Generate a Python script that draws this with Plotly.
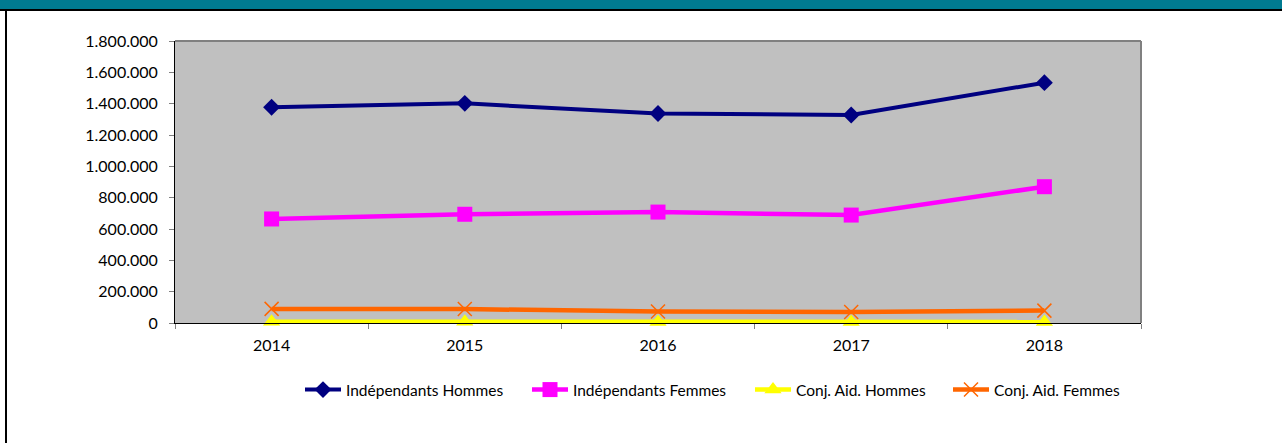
import plotly.graph_objects as go

years = ["2014", "2015", "2016", "2017", "2018"]
indep_hommes = [1377000, 1402000, 1337000, 1328000, 1534000]
indep_femmes = [664000, 694000, 708000, 689000, 870000]
conj_hommes = [8000, 8000, 7000, 7000, 7000]
conj_femmes = [90000, 89000, 73000, 70000, 79000]
y_ticks = [0, 200000, 400000, 600000, 800000, 1000000, 1200000, 1400000, 1600000, 1800000]
y_tick_labels = ["0", "200.000", "400.000", "600.000", "800.000", "1.000.000",
                 "1.200.000", "1.400.000", "1.600.000", "1.800.000"]

FONT = "Lato, Open Sans, sans-serif"

L, R, T, B = 175, 141, 41, 120
W, H = 1282, 443
pw, ph = W - L - R, H - T - B


def px_x(x):
    return (x - L) / pw


def px_y(y):
    return (H - B - y) / ph


fig = go.Figure()
fig.add_trace(go.Scatter(x=years, y=indep_hommes, name="Indépendants Hommes", legend="legend",
                         mode="lines+markers", line=dict(color="#000080", width=4), cliponaxis=False,
                         marker=dict(symbol="diamond", size=13, color="#000080")))
fig.add_trace(go.Scatter(x=years, y=indep_femmes, name="Indépendants Femmes", legend="legend2",
                         mode="lines+markers", line=dict(color="#FF00FF", width=4.5), cliponaxis=False,
                         marker=dict(symbol="square", size=15, color="#FF00FF")))
fig.add_trace(go.Scatter(x=years, y=conj_hommes, name="Conj. Aid. Hommes", legend="legend3",
                         mode="lines+markers", line=dict(color="#FFFF00", width=4.5), cliponaxis=False,
                         marker=dict(symbol="triangle-up", size=15, color="#FFFF00")))
fig.add_trace(go.Scatter(x=years, y=conj_femmes, name="Conj. Aid. Femmes", legend="legend4",
                         mode="lines+markers", line=dict(color="#FF6600", width=4.5), cliponaxis=False,
                         marker=dict(symbol="x-thin", size=14, color="#FF6600",
                                     line=dict(color="#FF6600", width=1.5))))

legend_left_px = [300, 527, 750, 948]


def leg(xpx):
    return dict(orientation="h", x=px_x(xpx), xanchor="left", y=px_y(390), yanchor="middle",
                font=dict(family=FONT, size=15.5, color="black"), itemwidth=36,
                bgcolor="rgba(0,0,0,0)", borderwidth=0)


fig.update_layout(
    width=W, height=H,
    margin=dict(l=L, r=R, t=T, b=B),
    paper_bgcolor="white", plot_bgcolor="#C0C0C0",
    font=dict(family=FONT, size=16, color="black"),
    showlegend=True,
    legend=leg(legend_left_px[0]),
    legend2=leg(legend_left_px[1]),
    legend3=leg(legend_left_px[2]),
    legend4=leg(legend_left_px[3]),
    xaxis=dict(type="category", range=[-0.5, 4.5], showgrid=False, zeroline=False,
               showline=True, linecolor="black", linewidth=1,
               ticks="outside", ticklen=5, tickcolor="#808080", tickson="boundaries",
               ticklabelstandoff=8,
               tickfont=dict(family=FONT, size=16)),
    yaxis=dict(range=[0, 1800000], tickvals=y_ticks, ticktext=y_tick_labels,
               showgrid=False, zeroline=False, showline=True, linecolor="black", linewidth=1,
               ticks="outside", ticklen=5, tickcolor="#808080", ticklabelstandoff=8,
               tickfont=dict(family=FONT, size=16)),
    shapes=[
        dict(type="line", xref="x domain", yref="y domain", x0=0, x1=1, y0=1, y1=1,
             line=dict(color="#808080", width=2)),
        dict(type="line", xref="x domain", yref="y domain", x0=1, x1=1, y0=0, y1=1,
             line=dict(color="#808080", width=2)),
    ],
)

# Frame: teal header bar, black rule under it, black left border
fig.add_shape(type="rect", xref="paper", yref="paper", x0=px_x(0), x1=px_x(W),
              y0=px_y(9), y1=px_y(0), fillcolor="#007B91", line=dict(width=0), layer="above")
fig.add_shape(type="rect", xref="paper", yref="paper", x0=px_x(0), x1=px_x(W),
              y0=px_y(11), y1=px_y(9), fillcolor="black", line=dict(width=0), layer="above")
fig.add_shape(type="rect", xref="paper", yref="paper", x0=px_x(5), x1=px_x(7),
              y0=px_y(H), y1=px_y(9), fillcolor="black", line=dict(width=0), layer="above")

fig.write_html("out.html")
